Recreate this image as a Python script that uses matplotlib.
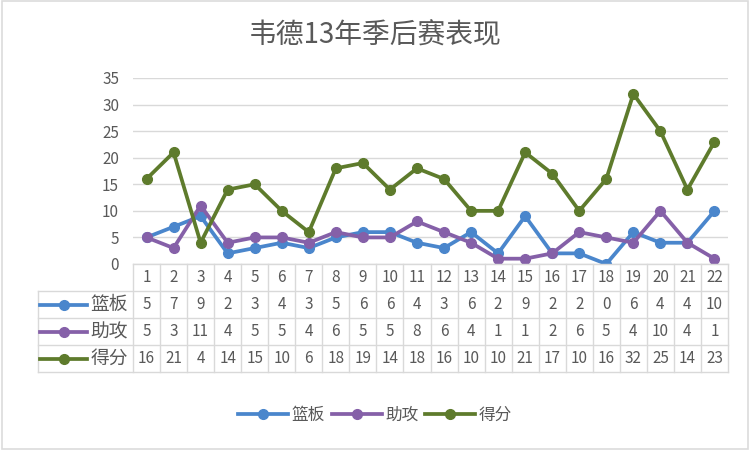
import matplotlib
matplotlib.use("Agg")
import matplotlib.pyplot as plt
from matplotlib.lines import Line2D
from matplotlib.patches import Rectangle

plt.rcParams['font.family'] = ['Noto Sans CJK SC', 'DejaVu Sans']

games = list(range(1, 23))
rebounds = [5, 7, 9, 2, 3, 4, 3, 5, 6, 6, 4, 3, 6, 2, 9, 2, 2, 0, 6, 4, 4, 10]
assists = [5, 3, 11, 4, 5, 5, 4, 6, 5, 5, 8, 6, 4, 1, 1, 2, 6, 5, 4, 10, 4, 1]
points = [16, 21, 4, 14, 15, 10, 6, 18, 19, 14, 18, 16, 10, 10, 21, 17, 10, 16, 32, 25, 14, 23]
series_names = ['篮板', '助攻', '得分']
series_data = [rebounds, assists, points]
colors = ['#4a86cc', '#8560a8', '#5e7b2c']
title = '韦德13年季后赛表现'

W, H = 750, 450
fig = plt.figure(figsize=(7.5, 4.5), dpi=100)
text_c = '#595959'
grid_c = '#d9d9d9'

# faint chart border
fig.patches.append(Rectangle((0.002, 0.003), 0.995, 0.994, transform=fig.transFigure,
                             fill=False, edgecolor='#dcdcdc', lw=1.2))

# main plot area in pixel units
x0, x1, ytop, ybot = 133, 728, 78, 264
ax = fig.add_axes([x0 / W, 1 - ybot / H, (x1 - x0) / W, (ybot - ytop) / H])
for name, vals, c in zip(series_names, series_data, colors):
    ax.plot(games, vals, color=c, lw=2.7, marker='o', ms=7, label=name,
            solid_joinstyle='round', solid_capstyle='round')
ax.set_xlim(0.5, 22.5)
ax.set_ylim(0, 35)
ax.set_yticks(range(0, 36, 5))
ax.set_xticks([])
ax.grid(axis='y', color=grid_c, lw=1)
ax.set_axisbelow(True)
for s in ax.spines.values():
    s.set_visible(False)
ax.tick_params(axis='y', length=0, pad=10, labelsize=11, labelcolor=text_c)

# data table under the plot
tx0, tbot = 38, 372
col_w = (x1 - x0) / 22
left_val = 0.5 - (x0 - tx0) / col_w
tab = fig.add_axes([tx0 / W, 1 - tbot / H, (x1 - tx0) / W, (tbot - ybot) / H])
tab.set_xlim(left_val, 22.5)
tab.set_ylim(4, 0)
tab.axis('off')
line_kw = dict(color=grid_c, lw=1, clip_on=False)
# horizontal lines
tab.plot([0.5, 22.5], [0, 0], **line_kw)
for r in range(1, 5):
    tab.plot([left_val, 22.5], [r, r], **line_kw)
# vertical lines
for k in range(23):
    tab.plot([k + 0.5, k + 0.5], [0, 4], **line_kw)
tab.plot([left_val, left_val], [1, 4], **line_kw)

for g in games:
    tab.text(g, 0.5, str(g), ha='center', va='center', fontsize=11, color=text_c)
for r, (name, vals, c) in enumerate(zip(series_names, series_data, colors), start=1):
    lx = left_val + 0.08
    tab.plot([lx, lx + 1.75], [r + 0.5, r + 0.5], color=c, lw=2.7, clip_on=False)
    tab.plot([lx + 0.875], [r + 0.5], marker='o', ms=7, color=c, clip_on=False)
    tab.text(lx + 1.85, r + 0.5, name, ha='left', va='center', fontsize=13.5, color=text_c)
    for g, v in zip(games, vals):
        tab.text(g, r + 0.5, str(v), ha='center', va='center', fontsize=11, color=text_c)

# legend
handles = [Line2D([], [], color=c, lw=2.7, marker='o', ms=7) for c in colors]
fig.legend(handles, series_names, loc='center', bbox_to_anchor=(375 / W, 1 - 415 / H),
           ncol=3, frameon=False, fontsize=12, labelcolor=text_c,
           handlelength=3.0, handletextpad=0.2, columnspacing=0.4)

fig.text(375 / W, 1 - 36 / H, title, ha='center', va='center', fontsize=20, color=text_c)

fig.savefig('out.png', dpi=100, facecolor='white')
